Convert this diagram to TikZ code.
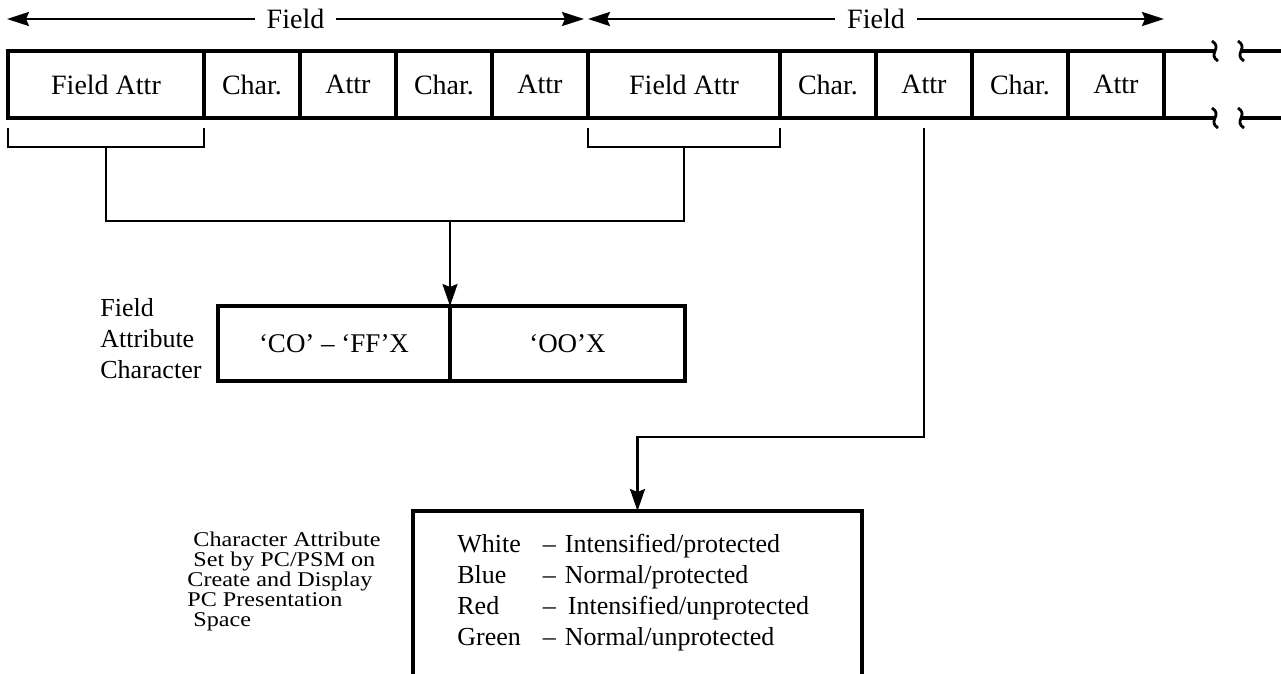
\documentclass[tikz,border=0pt]{standalone}
\usepackage{fontspec}
\setmainfont{Liberation Serif}
\newfontfamily\widefont{Liberation Serif}[FakeStretch=1.15]
\usetikzlibrary{arrows.meta, positioning, calc}

\begin{document}
\begin{tikzpicture}[x=0.5pt, y=-0.5pt,
    boxline/.style={line width=1.7pt},
    cell/.style={draw, boxline, minimum width=48pt, minimum height=33.5pt,
        inner sep=0pt, outer sep=0pt, font=\fontsize{14}{16}\selectfont},
    link/.style={line width=1.2pt},
    arr/.style={link, -{Stealth[length=11pt, width=7.5pt, inset=1.5pt]}},
    dbl/.style={link, {Stealth[length=11pt, width=7pt, inset=1.5pt]}-{Stealth[length=11pt, width=7pt, inset=1.5pt]}}]
    \useasboundingbox (0,0) rectangle (1281,674);

    % buffer row
    \node[cell, anchor=west, minimum width=98pt] (fa1) at (8,84.5) {Field Attr};
    \node[cell, right=0pt of fa1] (c1) {Char.};
    \node[cell, right=0pt of c1] (a1) {Attr};
    \node[cell, right=0pt of a1] (c2) {Char.};
    \node[cell, right=0pt of c2] (a2) {Attr};
    \node[cell, right=0pt of a2, minimum width=96pt] (fa2) {Field Attr};
    \node[cell, right=0pt of fa2] (c3) {Char.};
    \node[cell, right=0pt of c3] (a3) {Attr};
    \node[cell, right=0pt of a3] (c4) {Char.};
    \node[cell, right=0pt of c4] (a4) {Attr};

    % open end of the row
    \foreach \c in {north east, south east} {
        \draw[boxline] (a4.\c) -- ++(51,0) coordinate (w1);
        \draw[link, line width=1.4pt] ($(w1)+(-3,-10)$) .. controls ($(w1)+(8,-3)$) and ($(w1)+(-8,3)$) .. ($(w1)+(3,10)$);
        \draw[link, line width=1.4pt] ($(w1)+(23,-10)$) .. controls ($(w1)+(34,-3)$) and ($(w1)+(18,3)$) .. ($(w1)+(29,10)$);
        \draw[boxline] ($(w1)+(26,0)$) -- ++(60,0);
    }

    % field extents
    \coordinate (t0) at ($(fa1.north west)+(-1,-32)$);
    \coordinate (t1) at ($(fa2.north west)+(-4,-32)$);
    \coordinate (t2) at ($(fa2.north west)+(0,-32)$);
    \coordinate (t3) at ($(a4.north east)+(0,-32)$);
    \draw[dbl] (t0) -- (t1) node[midway, fill=white, inner xsep=6pt, font=\fontsize{14}{16}\selectfont] (fld1) {Field};
    \draw[dbl] (t2) -- (t3) node[midway, fill=white, inner xsep=6pt, font=\fontsize{14}{16}\selectfont] (fld2) {Field};

    % field attribute character
    \node[cell, anchor=west, minimum width=116pt, minimum height=37.5pt, font=\fontsize{13.5}{15}\selectfont] (fb1) at (218,343.5) {‘CO’ – ‘FF’X};
    \node[cell, right=0pt of fb1, minimum width=117.5pt, minimum height=37.5pt, font=\fontsize{13.5}{15}\selectfont] (fb2) {‘OO’X};
    \node[align=left, anchor=west, inner sep=0pt, font=\fontsize{13}{15.5}\selectfont] (falab) at (100,339) {Field\\Attribute\\Character};

    % brackets under the field attributes
    \draw[link] ($(fa1.south west)+(0,10)$) -- ++(0,19) -| ($(fa1.south east)+(0,10)$);
    \draw[link] ($(fa2.south west)+(0,10)$) -- ++(0,19) -| ($(fa2.south east)+(0,10)$);
    \coordinate (j) at ($(fb1.north east)+(0,-85)$);
    \draw[link] ($(fa1.south)+(0,29)$) |- (j) -| ($(fa2.south)+(0,29)$);
    \draw[arr] (j) -- (fb1.north east);

    % character attribute
    \node[minimum width=224.5pt, minimum height=90pt, anchor=north, inner sep=0pt, outer sep=0pt] (cbox) at (637.5,511) {};
    \draw[boxline] (cbox.south west) |- (cbox.north) -| (cbox.south east);
    \draw[arr] ($(a3.south)+(0,10)$) |- ($(cbox.north)+(0,-74)$) -- (cbox.north);
    \node[anchor=base west, inner sep=0pt, font=\fontsize{13}{15.5}\selectfont] (ctext) at (457,552)
        {\begin{tabular}[t]{@{}l@{\hspace{11pt}}l@{\hspace{4.5pt}}l@{}}
        White & – & Intensified/protected\\
        Blue & – & Normal/protected\\
        Red & – & \hspace{1.5pt}Intensified/unprotected\\
        Green & – & Normal/unprotected
        \end{tabular}};
    \node[align=left, anchor=west, inner sep=0pt, font=\widefont\fontsize{10.5}{10}\selectfont] (calab) at (187,581)
        {\hspace{3pt}Character Attribute\\\hspace{3pt}Set by PC/PSM on\\Create and Display\\PC Presentation\\\hspace{3pt}Space};
\end{tikzpicture}
\end{document}
